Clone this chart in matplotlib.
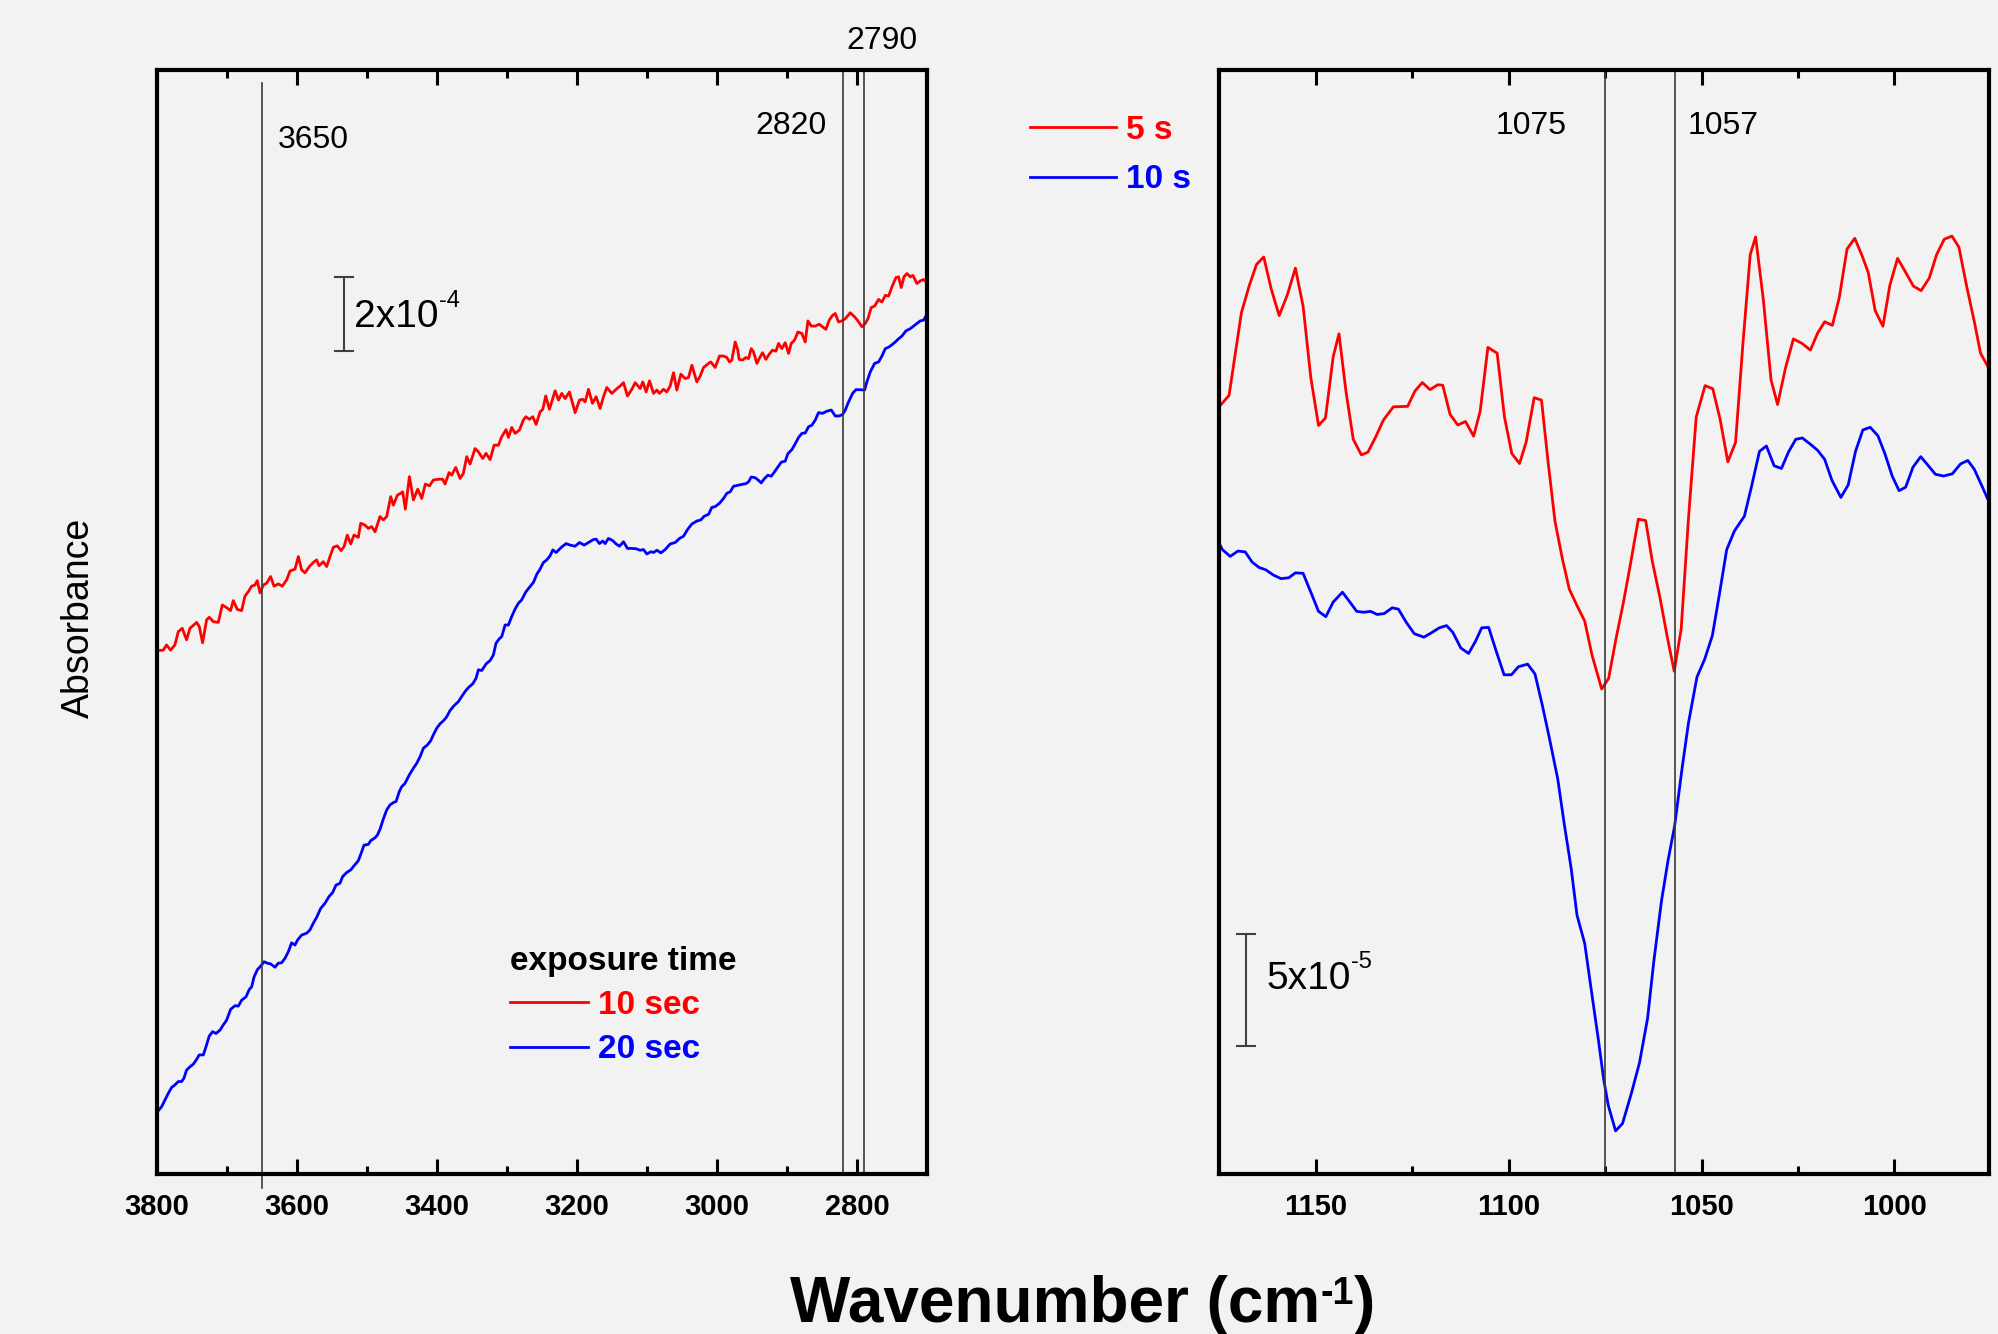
import numpy as np
import matplotlib.pyplot as plt
from matplotlib.ticker import MultipleLocator

plt.rcParams['font.family'] = 'Liberation Sans'

# (wavenumber cm-1, absorbance in units of 1e-4) -- OH / CH region
red_10sec = [
    (3798.4, 14.15), (3791.2, 14.16), (3786.5, 14.30), (3780.8, 14.16), (3774.6, 14.30),
    (3769.8, 14.66), (3764.1, 14.75), (3757.9, 14.44), (3753.1, 14.75), (3743.6, 14.91),
    (3739.8, 14.80), (3735.0, 14.36), (3729.3, 14.98), (3725.5, 15.05), (3719.7, 14.93),
    (3712.6, 14.91), (3706.9, 15.38), (3700.7, 15.31), (3695.0, 15.23), (3691.2, 15.50),
    (3685.4, 15.26), (3679.2, 15.23), (3674.5, 15.62), (3669.7, 15.74), (3665.0, 15.89),
    (3660.2, 15.92), (3656.9, 16.04), (3653.0, 15.71), (3648.3, 15.92), (3643.5, 15.97),
    (3637.8, 16.15), (3633.0, 15.89), (3626.8, 15.95), (3621.1, 15.89), (3614.9, 16.06),
    (3610.1, 16.30), (3603.0, 16.35), (3598.2, 16.69), (3593.5, 16.33), (3588.7, 16.25),
    (3582.5, 16.42), (3576.8, 16.53), (3572.0, 16.60), (3568.7, 16.44), (3562.5, 16.55),
    (3557.7, 16.42), (3553.0, 16.69), (3548.2, 16.94), (3542.5, 16.98), (3537.2, 16.85),
    (3532.9, 16.96), (3528.2, 17.27), (3523.4, 17.03), (3518.7, 17.27), (3512.5, 17.21),
    (3509.1, 17.59), (3502.9, 17.54), (3498.2, 17.45), (3493.4, 17.50), (3488.6, 17.36),
    (3481.5, 17.77), (3476.7, 17.68), (3472.0, 17.77), (3466.2, 18.31), (3462.4, 18.08),
    (3456.7, 18.35), (3451.9, 18.40), (3449.1, 18.44), (3445.3, 17.97), (3439.5, 18.85),
    (3433.8, 18.22), (3427.6, 18.51), (3421.9, 18.26), (3416.7, 18.65), (3410.9, 18.60),
    (3405.2, 18.76), (3398.1, 18.78), (3391.9, 18.78), (3388.6, 18.65), (3382.8, 18.96),
    (3379.0, 18.89), (3373.3, 19.10), (3367.1, 18.80), (3362.4, 18.94), (3357.6, 19.39),
    (3352.8, 19.19), (3345.7, 19.61), (3340.9, 19.52), (3334.7, 19.34), (3330.0, 19.48),
    (3324.2, 19.31), (3318.5, 19.70), (3312.3, 19.70), (3307.6, 19.93), (3301.4, 20.12),
    (3298.0, 19.91), (3293.3, 20.18), (3288.5, 20.02), (3282.3, 20.11), (3276.6, 20.38),
    (3273.2, 20.47), (3268.0, 20.40), (3263.2, 20.47), (3258.5, 20.26), (3252.8, 20.60),
    (3248.9, 20.67), (3244.7, 21.03), (3239.4, 20.67), (3231.3, 21.17), (3226.5, 20.92),
    (3221.8, 21.10), (3217.0, 20.96), (3210.8, 21.14), (3202.7, 20.58), (3196.5, 20.92),
    (3191.8, 20.94), (3188.4, 20.87), (3183.6, 21.21), (3177.9, 20.83), (3172.7, 21.01),
    (3167.0, 20.69), (3162.2, 21.01), (3157.4, 21.26), (3150.3, 21.10), (3144.1, 21.21),
    (3138.4, 21.30), (3133.6, 21.39), (3127.9, 21.03), (3121.7, 21.21), (3116.9, 21.39),
    (3109.8, 21.23), (3106.0, 21.41), (3101.2, 21.14), (3096.4, 21.44), (3090.7, 21.10),
    (3085.9, 21.19), (3082.2, 21.10), (3076.4, 21.21), (3071.7, 21.14), (3066.9, 21.30),
    (3062.1, 21.66), (3057.4, 21.19), (3051.6, 21.62), (3045.4, 21.50), (3040.7, 21.53),
    (3035.9, 21.86), (3028.8, 21.41), (3024.0, 21.57), (3019.2, 21.80), (3012.1, 21.91),
    (3008.8, 21.95), (3002.6, 21.80), (2996.4, 22.11), (2990.7, 22.11), (2985.9, 22.07),
    (2982.1, 21.95), (2978.8, 22.00), (2974.0, 22.49), (2970.2, 22.27), (2968.3, 22.02),
    (2963.5, 22.00), (2958.7, 22.07), (2954.9, 22.04), (2951.1, 22.31), (2947.8, 22.22),
    (2943.0, 21.91), (2938.2, 22.09), (2934.9, 22.20), (2930.1, 22.02), (2925.4, 22.16),
    (2920.6, 22.27), (2915.8, 22.24), (2912.0, 22.45), (2907.3, 22.31), (2902.5, 22.47),
    (2897.7, 22.18), (2893.9, 22.45), (2889.2, 22.54), (2884.4, 22.76), (2878.7, 22.72),
    (2873.9, 22.49), (2870.1, 23.06), (2865.3, 22.92), (2859.6, 22.92), (2853.9, 22.97),
    (2849.1, 22.90), (2844.4, 22.83), (2839.6, 23.08), (2834.8, 23.21), (2831.0, 23.26),
    (2826.3, 23.03), (2821.5, 23.06), (2816.7, 23.12), (2809.6, 23.28), (2803.4, 23.17),
    (2798.6, 23.06), (2792.9, 22.90), (2788.1, 22.99), (2784.3, 23.12), (2779.6, 23.42),
    (2774.8, 23.46), (2769.1, 23.64), (2764.3, 23.57), (2759.5, 23.75), (2754.8, 23.73),
    (2750.0, 23.98), (2744.3, 24.23), (2740.5, 24.25), (2736.7, 23.96), (2732.9, 24.25),
    (2728.6, 24.34), (2723.8, 24.25), (2720.0, 24.29), (2714.3, 24.07), (2709.5, 24.14),
    (2704.7, 24.18), (2699.5, 24.07),
]

blue_20sec = [
    (3798.4, 1.71), (3793.6, 1.82), (3788.9, 2.00), (3784.1, 2.18), (3779.3, 2.34),
    (3774.6, 2.41), (3769.8, 2.50), (3765.0, 2.50), (3761.7, 2.59), (3757.9, 2.81),
    (3753.1, 2.90), (3748.3, 2.97), (3743.6, 3.10), (3739.8, 3.22), (3734.0, 3.22),
    (3730.2, 3.44), (3725.5, 3.73), (3720.7, 3.85), (3715.9, 3.80), (3710.2, 3.89),
    (3705.5, 4.03), (3700.7, 4.16), (3695.0, 4.45), (3688.8, 4.55), (3684.0, 4.54),
    (3679.2, 4.70), (3673.0, 4.79), (3668.3, 4.99), (3664.9, 5.06), (3661.6, 5.32),
    (3656.9, 5.52), (3650.7, 5.65), (3647.3, 5.74), (3642.6, 5.70), (3637.8, 5.68),
    (3631.6, 5.59), (3626.8, 5.70), (3622.1, 5.71), (3617.3, 5.83), (3612.5, 6.01),
    (3607.8, 6.25), (3603.0, 6.19), (3599.2, 6.33), (3593.5, 6.46), (3586.3, 6.51),
    (3581.6, 6.60), (3576.8, 6.78), (3572.0, 6.94), (3566.3, 7.18), (3560.1, 7.32),
    (3554.4, 7.50), (3549.2, 7.61), (3544.4, 7.81), (3538.7, 7.86), (3534.9, 8.04),
    (3529.2, 8.15), (3523.4, 8.22), (3518.7, 8.33), (3512.5, 8.47), (3507.7, 8.71),
    (3504.4, 8.89), (3498.2, 8.91), (3494.8, 9.01), (3488.6, 9.09), (3485.3, 9.16),
    (3481.5, 9.32), (3476.7, 9.60), (3472.0, 9.84), (3467.2, 9.98), (3462.4, 10.04),
    (3458.6, 10.07), (3453.9, 10.34), (3450.5, 10.47), (3445.8, 10.56), (3439.6, 10.79),
    (3433.8, 10.97), (3429.1, 11.10), (3424.3, 11.28), (3419.5, 11.51), (3413.8, 11.60),
    (3409.1, 11.71), (3405.3, 11.87), (3400.5, 12.05), (3395.7, 12.17), (3390.0, 12.27),
    (3386.2, 12.36), (3381.4, 12.53), (3375.7, 12.66), (3369.5, 12.77), (3364.7, 12.91),
    (3360.0, 13.04), (3355.2, 13.15), (3349.0, 13.25), (3344.3, 13.40), (3340.9, 13.63),
    (3336.1, 13.61), (3329.9, 13.79), (3324.2, 13.88), (3319.5, 14.03), (3315.7, 14.35),
    (3311.4, 14.46), (3307.5, 14.53), (3302.8, 14.84), (3298.0, 14.84), (3293.3, 15.07),
    (3288.5, 15.27), (3283.7, 15.43), (3279.0, 15.52), (3273.3, 15.73), (3267.1, 15.88),
    (3262.3, 15.99), (3257.5, 16.21), (3252.8, 16.35), (3248.0, 16.53), (3243.2, 16.60),
    (3238.5, 16.71), (3234.6, 16.87), (3229.9, 16.80), (3221.8, 16.95), (3215.6, 17.04),
    (3209.9, 17.00), (3202.7, 16.97), (3196.5, 17.07), (3189.8, 17.00), (3183.6, 17.07),
    (3176.5, 17.15), (3172.7, 17.16), (3167.9, 17.04), (3163.2, 17.11), (3159.8, 17.04),
    (3155.1, 17.18), (3148.9, 17.12), (3144.1, 17.03), (3139.3, 16.97), (3133.6, 17.09),
    (3127.9, 16.91), (3121.7, 16.91), (3115.5, 16.90), (3109.8, 16.86), (3105.0, 16.88),
    (3100.3, 16.76), (3094.5, 16.82), (3090.7, 16.80), (3085.9, 16.86), (3080.2, 16.79),
    (3074.0, 16.88), (3066.9, 17.03), (3059.7, 17.07), (3053.5, 17.18), (3047.8, 17.24),
    (3042.1, 17.42), (3035.9, 17.57), (3028.8, 17.65), (3023.1, 17.68), (3018.3, 17.78),
    (3012.1, 17.83), (3007.3, 18.02), (3002.6, 18.04), (2996.4, 18.13), (2990.7, 18.26),
    (2985.9, 18.40), (2981.1, 18.44), (2976.4, 18.59), (2969.2, 18.62), (2964.5, 18.64),
    (2958.7, 18.66), (2954.9, 18.71), (2951.1, 18.84), (2945.4, 18.82), (2940.6, 18.75),
    (2936.8, 18.68), (2932.1, 18.80), (2927.3, 18.89), (2922.5, 18.86), (2917.8, 18.98),
    (2913.0, 19.11), (2908.2, 19.24), (2902.5, 19.27), (2898.7, 19.47), (2893.0, 19.58),
    (2888.2, 19.74), (2883.4, 19.91), (2878.7, 20.02), (2873.9, 20.03), (2869.1, 20.20),
    (2864.4, 20.24), (2859.6, 20.38), (2854.9, 20.58), (2849.1, 20.56), (2842.9, 20.62),
    (2836.7, 20.65), (2831.0, 20.49), (2825.3, 20.49), (2820.5, 20.53), (2816.7, 20.65),
    (2812.0, 20.87), (2806.2, 21.10), (2801.5, 21.20), (2795.3, 21.20), (2789.1, 21.19),
    (2785.8, 21.41), (2781.0, 21.68), (2774.8, 21.91), (2769.1, 21.95), (2764.3, 22.11),
    (2759.5, 22.31), (2753.8, 22.36), (2747.6, 22.45), (2741.4, 22.56), (2735.7, 22.65),
    (2730.0, 22.79), (2723.8, 22.85), (2719.0, 22.92), (2714.3, 22.99), (2709.5, 23.06),
    (2704.7, 23.08), (2699.5, 23.26),
]

# (wavenumber cm-1, absorbance in units of 1e-5) -- C-O region
red_5s = [
    (1175.1, 34.47), (1172.5, 34.98), (1169.3, 38.69), (1167.3, 39.89), (1165.4, 40.86),
    (1163.5, 41.20), (1161.6, 39.79), (1159.5, 38.57), (1157.4, 39.49), (1155.3, 40.70),
    (1153.3, 38.99), (1151.3, 35.78), (1149.3, 33.63), (1147.5, 33.97), (1145.5, 36.72),
    (1144.0, 37.75), (1142.2, 35.18), (1140.3, 33.01), (1138.2, 32.31), (1136.5, 32.43),
    (1134.5, 33.11), (1132.5, 33.87), (1129.9, 34.47), (1126.2, 34.49), (1124.3, 35.18),
    (1122.4, 35.56), (1120.4, 35.24), (1118.4, 35.46), (1117.1, 35.44), (1115.2, 34.13),
    (1113.2, 33.65), (1111.2, 33.81), (1109.1, 33.15), (1107.4, 34.27), (1105.4, 37.14),
    (1103.0, 36.88), (1101.1, 34.01), (1099.2, 32.37), (1097.2, 31.92), (1095.5, 32.87),
    (1093.4, 34.88), (1091.5, 34.77), (1089.8, 32.00), (1088.0, 29.32), (1086.1, 27.65),
    (1084.3, 26.28), (1082.3, 25.54), (1080.3, 24.84), (1078.4, 23.31), (1075.9, 21.79),
    (1074.1, 22.27), (1072.2, 24.04), (1070.2, 25.74), (1068.4, 27.45), (1066.4, 29.42),
    (1064.5, 29.36), (1062.8, 27.55), (1060.8, 25.90), (1058.8, 24.04), (1057.1, 22.59),
    (1055.3, 24.48), (1053.4, 29.46), (1051.4, 34.01), (1049.1, 35.42), (1047.1, 35.28),
    (1045.2, 33.91), (1043.2, 32.00), (1041.2, 32.87), (1039.3, 37.28), (1037.4, 41.30),
    (1036.0, 42.10), (1034.0, 39.29), (1032.0, 35.68), (1030.3, 34.57), (1028.3, 36.18),
    (1026.2, 37.52), (1024.0, 37.32), (1021.8, 37.02), (1019.9, 37.79), (1018.1, 38.29),
    (1016.1, 38.13), (1014.3, 39.39), (1012.3, 41.56), (1010.3, 42.04), (1008.4, 41.26),
    (1006.8, 40.50), (1005.0, 38.79), (1003.0, 38.09), (1001.2, 39.93), (999.2, 41.14),
    (997.2, 40.54), (995.1, 39.89), (993.1, 39.69), (991.0, 40.25), (989.1, 41.30),
    (987.1, 42.00), (985.1, 42.14), (983.3, 41.64), (981.3, 39.89), (979.3, 38.29),
    (977.7, 36.88), (975.8, 36.28),
]

blue_10s = [
    (1175.1, 28.35), (1174.2, 28.05), (1172.2, 27.75), (1170.2, 27.99), (1168.3, 27.95),
    (1166.5, 27.49), (1164.7, 27.25), (1163.0, 27.15), (1161.0, 26.91), (1159.0, 26.75),
    (1157.0, 26.79), (1155.3, 27.01), (1153.3, 26.99), (1151.3, 26.14), (1149.3, 25.28),
    (1147.4, 25.04), (1145.5, 25.70), (1143.1, 26.14), (1141.1, 25.68), (1139.4, 25.28),
    (1137.6, 25.24), (1135.8, 25.28), (1134.1, 25.14), (1132.3, 25.18), (1130.2, 25.44),
    (1128.6, 25.38), (1126.6, 24.80), (1124.5, 24.28), (1122.0, 24.12), (1120.0, 24.32),
    (1118.0, 24.54), (1116.1, 24.64), (1114.5, 24.34), (1112.4, 23.63), (1110.4, 23.39),
    (1108.6, 23.94), (1107.0, 24.54), (1105.2, 24.56), (1103.2, 23.47), (1101.2, 22.43),
    (1099.3, 22.43), (1097.5, 22.79), (1095.1, 22.91), (1093.2, 22.47), (1091.3, 21.07),
    (1089.5, 19.62), (1087.3, 17.76), (1085.6, 15.72), (1083.8, 13.72), (1082.3, 11.63),
    (1080.3, 10.36), (1078.6, 8.27), (1076.8, 6.09), (1075.4, 4.27), (1074.2, 3.09),
    (1072.3, 1.94), (1070.5, 2.27), (1068.2, 3.63), (1066.1, 5.00), (1064.0, 7.00),
    (1062.4, 9.54), (1060.4, 12.27), (1058.7, 14.09), (1057.0, 15.63), (1055.1, 18.18),
    (1053.4, 20.27), (1051.2, 22.33), (1049.2, 23.13), (1047.2, 24.20), (1045.3, 26.14),
    (1043.5, 28.05), (1041.5, 28.89), (1038.9, 29.56), (1037.1, 30.86), (1035.0, 32.47),
    (1033.2, 32.71), (1031.2, 31.82), (1029.3, 31.70), (1027.5, 32.43), (1025.6, 33.01),
    (1023.9, 33.07), (1021.8, 32.79), (1019.9, 32.51), (1018.1, 32.11), (1016.2, 31.16),
    (1013.9, 30.40), (1012.0, 30.96), (1010.1, 32.47), (1008.2, 33.43), (1006.3, 33.55),
    (1004.3, 33.17), (1002.5, 32.37), (1000.6, 31.36), (998.8, 30.70), (997.1, 30.86),
    (995.2, 31.76), (993.2, 32.23), (991.4, 31.86), (989.4, 31.44), (987.3, 31.36),
    (985.0, 31.46), (982.9, 31.90), (981.0, 32.06), (979.3, 31.66), (977.3, 30.90),
    (975.4, 30.16),
]

peaks_high = [3650, 2820, 2790]
peaks_low = [1075, 1057]
scale_high = 2   # 2x10^-4
scale_low = 5    # 5x10^-5

bg = '#f2f2f2'
fig = plt.figure(figsize=(19.99, 13.34), dpi=100, facecolor=bg)
ax1 = fig.add_axes([0.0786, 0.1199, 0.3851, 0.8276])
ax2 = fig.add_axes([0.6100, 0.1199, 0.3850, 0.8276])

x, y = np.array(red_10sec).T
l1, = ax1.plot(x, y, color='red', lw=2)
x, y = np.array(blue_20sec).T
l2, = ax1.plot(x, y, color='blue', lw=2)
x, y = np.array(red_5s).T
l3, = ax2.plot(x, y, color='red', lw=2)
x, y = np.array(blue_10s).T
l4, = ax2.plot(x, y, color='blue', lw=2)

ax1.set_xlim(3800, 2700)
ax1.set_ylim(0, 29.84)
ax2.set_xlim(1175, 975.5)
ax2.set_ylim(0, 49.6)

ax1.xaxis.set_major_locator(MultipleLocator(200))
ax1.xaxis.set_minor_locator(MultipleLocator(100))
ax2.xaxis.set_major_locator(MultipleLocator(50))
ax2.xaxis.set_minor_locator(MultipleLocator(25))

for ax in (ax1, ax2):
    ax.set_facecolor(bg)
    for s in ax.spines.values():
        s.set_linewidth(3)
    ax.set_yticks([])
    ax.tick_params(axis='x', which='both', direction='in', top=True, bottom=True,
                   width=2.2, labelsize=21, pad=13.5)
    ax.tick_params(axis='x', which='major', length=11)
    ax.tick_params(axis='x', which='minor', length=5.5)
    plt.setp(ax.get_xticklabels(), fontweight='bold')


def superscript(ax, base, s, size, yfrac, weight='normal'):
    # small raised text glued to the right end of another text
    return ax.annotate(s, xy=(1.0, yfrac), xycoords=base, va='baseline', ha='left',
                       fontsize=size, fontweight=weight, annotation_clip=False)


# peak markers
lc = '#3a3a3a'
ax1.axvline(peaks_high[0], ymin=-0.013, ymax=0.988, color=lc, lw=1.2, clip_on=False)
ax1.axvline(peaks_high[1], color=lc, lw=1.2)
ax1.axvline(peaks_high[2], color=lc, lw=1.2)
for p in peaks_low:
    ax2.axvline(p, color=lc, lw=1.2)

t1 = ax1.get_xaxis_transform()
t2 = ax2.get_xaxis_transform()
ax1.text(3627, 0.937, str(peaks_high[0]), transform=t1, fontsize=23, ha='left', va='center')
ax1.text(2894, 0.949, str(peaks_high[1]), transform=t1, fontsize=23, ha='center', va='center')
ax1.text(2764, 1.026, str(peaks_high[2]), transform=t1, fontsize=23, ha='center', va='center')
ax2.text(1094.2, 0.949, str(peaks_low[0]), transform=t2, fontsize=23, ha='center', va='center')
ax2.text(1044.4, 0.949, str(peaks_low[1]), transform=t2, fontsize=23, ha='center', va='center')

# scale bars
ax1.errorbar([3533], [23.24], yerr=[scale_high / 2], color='#404040', lw=1.5,
             capsize=7, capthick=1.5)
b1 = ax1.text(3518, 23.16, '%dx10' % scale_high, fontsize=28, ha='left', va='center')
superscript(ax1, b1, '-4', 17, 0.79)
ax2.errorbar([1168.0], [8.27], yerr=[scale_low / 2], color='#404040', lw=1.5,
             capsize=7, capthick=1.5)
b2 = ax2.text(1162.7, 8.77, '%dx10' % scale_low, fontsize=28, ha='left', va='center')
superscript(ax2, b2, '-5', 17, 0.79)

# legends
leg1 = ax1.legend([l1, l2], ['10 sec', '20 sec'], title='exposure time',
                  loc='upper left', bbox_to_anchor=(0.2466, 0.3035),
                  bbox_transform=fig.transFigure, frameon=False, borderpad=0,
                  handlelength=2.35, handletextpad=0.3, labelspacing=0.4,
                  prop={'weight': 'bold', 'size': 24},
                  title_fontproperties={'weight': 'bold', 'size': 24},
                  labelcolor='linecolor', alignment='left')
leg2 = ax2.legend([l3, l4], ['5 s', '10 s'], loc='upper left',
                  bbox_to_anchor=(0.5068, 0.9266), bbox_transform=fig.transFigure,
                  frameon=False, borderpad=0, handlelength=2.6, handletextpad=0.3,
                  labelspacing=0.56, prop={'weight': 'bold', 'size': 24},
                  labelcolor='linecolor')

fig.text(0.0395, 0.5367, 'Absorbance', rotation=90, fontsize=27, ha='center', va='center')
xl = fig.text(0.3952, 0.009, 'Wavenumber (cm', fontsize=46, fontweight='bold',
              ha='left', va='baseline')
xs = superscript(ax1, xl, '-1', 27, 0.52, weight='bold')
ax1.annotate(')', xy=(1.0, 0.0), xycoords=(xs, xl), va='bottom', ha='left',
             fontsize=46, fontweight='bold', annotation_clip=False)

fig.savefig('out.png', dpi=100, facecolor=bg)
